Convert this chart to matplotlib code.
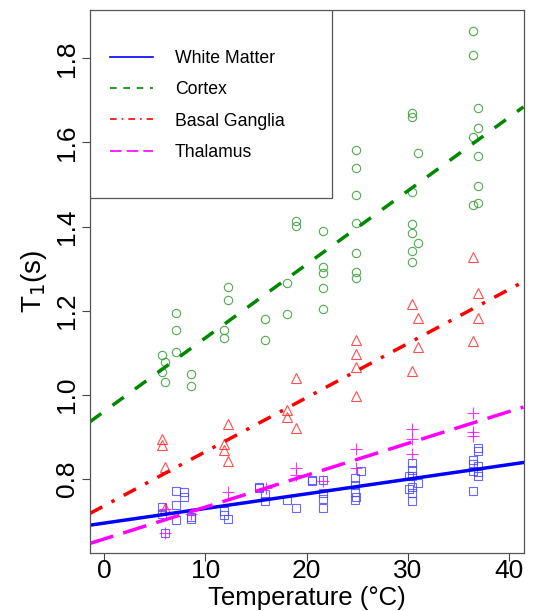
import numpy as np
import matplotlib
matplotlib.use("Agg")
import matplotlib.pyplot as plt
from matplotlib.lines import Line2D
from matplotlib.patches import Rectangle

plt.rcParams['font.family'] = ['Liberation Sans', 'DejaVu Sans']

# white matter (squares)
wm_temp = [5.75, 5.75, 6.0, 7.1, 7.1, 7.1, 7.9, 7.9, 8.55, 8.55, 11.8, 11.8, 12.2,
           15.3, 15.3, 15.9, 15.9, 18.1, 19.0, 20.5, 20.5, 21.6, 21.6, 21.6, 21.6,
           24.75, 24.75, 24.75, 24.75, 24.9, 25.4, 30.1, 30.1, 30.4, 30.4, 30.4, 30.4,
           30.4, 30.4, 31.0, 36.5, 36.5, 36.5, 36.5, 37.0, 37.0, 37.0, 37.0, 37.0]
wm_t1 = [0.733, 0.717, 0.672, 0.772, 0.739, 0.703, 0.769, 0.758, 0.710, 0.704, 0.723, 0.715, 0.704,
         0.780, 0.778, 0.764, 0.747, 0.749, 0.730, 0.797, 0.795, 0.798, 0.766, 0.752, 0.731,
         0.803, 0.785, 0.770, 0.750, 0.756, 0.819, 0.807, 0.775, 0.837, 0.821, 0.806, 0.781,
         0.766, 0.747, 0.791, 0.844, 0.835, 0.819, 0.772, 0.874, 0.866, 0.831, 0.817, 0.806]

# cortex (circles)
ctx_temp = [5.75, 5.75, 6.0, 6.0, 7.1, 7.1, 7.1, 8.55, 8.55, 11.8, 11.8, 12.2, 12.2,
            15.9, 15.9, 18.1, 18.1, 19.0, 19.0, 21.6, 21.6, 21.6, 21.6, 21.6,
            24.9, 24.9, 24.9, 24.9, 24.9, 24.9, 24.9,
            30.4, 30.4, 30.4, 30.4, 30.4, 30.4, 30.4, 31.0, 31.0,
            36.5, 36.5, 36.5, 36.5, 37.0, 37.0, 37.0, 37.0, 37.0]
ctx_t1 = [1.095, 1.055, 1.079, 1.031, 1.194, 1.154, 1.102, 1.049, 1.021, 1.154, 1.136, 1.257, 1.225,
          1.180, 1.131, 1.267, 1.191, 1.413, 1.402, 1.389, 1.304, 1.289, 1.254, 1.204,
          1.582, 1.539, 1.475, 1.409, 1.338, 1.292, 1.278,
          1.671, 1.660, 1.482, 1.407, 1.385, 1.342, 1.316, 1.576, 1.360,
          1.866, 1.808, 1.613, 1.452, 1.681, 1.634, 1.569, 1.496, 1.456]

# basal ganglia (triangles)
bg_temp = [5.75, 5.75, 6.0, 6.0, 11.8, 11.8, 12.2, 12.2, 18.1, 18.1, 19.0, 19.0,
           24.9, 24.9, 24.9, 24.9, 30.4, 30.4, 31.0, 31.0, 36.5, 36.5, 37.0, 37.0]
bg_t1 = [0.896, 0.881, 0.828, 0.731, 0.883, 0.869, 0.930, 0.843, 0.964, 0.947, 1.041, 0.921,
         1.131, 1.096, 1.067, 0.998, 1.217, 1.057, 1.182, 1.113, 1.328, 1.129, 1.243, 1.182]

# thalamus (crosses)
th_temp = [6.0, 6.0, 8.6, 12.2, 16.0, 19.0, 19.0, 21.6, 24.9, 24.9,
           30.4, 30.4, 30.4, 36.5, 36.5, 36.5]
th_t1 = [0.672, 0.728, 0.716, 0.770, 0.778, 0.826, 0.810, 0.796, 0.870, 0.826,
         0.919, 0.895, 0.859, 0.956, 0.911, 0.902]

# fitted lines (intercept, slope)
wm_fit = [0.6949, 0.003474]
ctx_fit = [0.9608, 0.017456]
bg_fit = [0.7362, 0.012847]
th_fit = [0.6573, 0.007563]

labels = ['White Matter', 'Cortex', 'Basal Ganglia', 'Thalamus']

fig = plt.figure(figsize=(5.33, 6.11), dpi=100)
ax = fig.add_axes([0.1689, 0.0944, 0.8133, 0.8892])

ms = 6
ax.plot(wm_temp, wm_t1, 's', ms=ms, mfc='none', mec='#4444ff', mew=0.8, alpha=0.8)
ax.plot(ctx_temp, ctx_t1, 'o', ms=ms, mfc='none', mec='#229922', mew=0.8, alpha=0.8)
ax.plot(bg_temp, bg_t1, '^', ms=ms + 1, mfc='none', mec='#ff2222', mew=0.8, alpha=0.8)
ax.plot(th_temp, th_t1, '+', ms=ms + 2, mec='#ff00ff', mew=0.8, alpha=0.8)

lw = 2.5
ax.axline((0, wm_fit[0]), slope=wm_fit[1], color='#0000ff', lw=lw)
ax.axline((0, ctx_fit[0]), slope=ctx_fit[1], color='#008800', lw=lw, dashes=(4, 4))
ax.axline((0, bg_fit[0]), slope=bg_fit[1], color='#ff0000', lw=lw, dashes=(4, 3, 1, 3))
ax.axline((0, th_fit[0]), slope=th_fit[1], color='#ff00ff', lw=lw, dashes=(7, 3))

ax.set_xlim(-1.42, 41.47)
ax.set_ylim(0.623, 1.915)
ax.set_xticks([0, 10, 20, 30, 40])
ax.set_yticks([0.8, 1.0, 1.2, 1.4, 1.6, 1.8])
ax.set_yticklabels(['0.8', '1.0', '1.2', '1.4', '1.6', '1.8'])
ax.tick_params(length=6, width=0.8, color='#444444', labelsize=19, pad=2)
ax.tick_params(axis='x', pad=-2)
plt.setp(ax.get_yticklabels(), rotation=90, va='center')
for s in ax.spines.values():
    s.set_color('#555555')
    s.set_linewidth(0.9)

ax.set_xlabel('Temperature (°C)', fontsize=18.5, labelpad=2)
ax.set_ylabel('T$_1$(s)', fontsize=20, labelpad=4)

# legend box
ax.add_patch(Rectangle((0, 0.6545), 0.558, 0.3455, transform=ax.transAxes,
                       fill=True, facecolor='white', edgecolor='#555555', lw=0.9, zorder=5))
handles = [
    Line2D([], [], color='#0000ff', lw=1.2),
    Line2D([], [], color='#008800', lw=1.2, dashes=(4, 4)),
    Line2D([], [], color='#ff0000', lw=1.2, dashes=(4, 3, 1, 3)),
    Line2D([], [], color='#ff00ff', lw=1.2, dashes=(7, 3)),
]
leg = ax.legend(handles, labels, loc='upper left', bbox_to_anchor=(0.045, 0.927),
                frameon=False, fontsize=12.7, handlelength=2.45, handletextpad=1.25,
                labelspacing=0.82, borderpad=0, borderaxespad=0)
leg.set_zorder(6)

fig.savefig('out.png', dpi=100)
